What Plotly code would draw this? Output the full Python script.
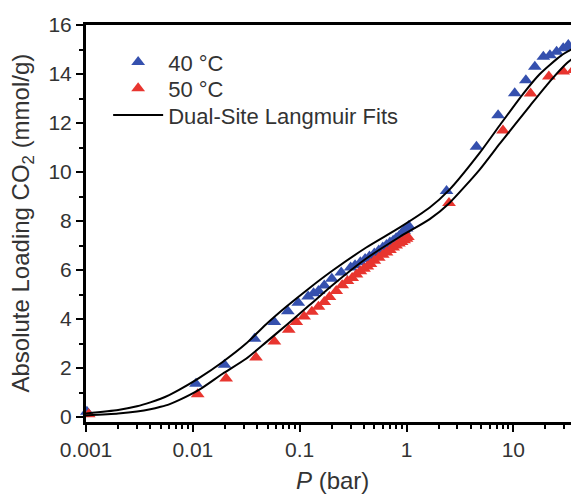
import plotly.graph_objects as go

# ---- data ----
p_40 = [0.00102, 0.0107, 0.0198, 0.0378, 0.058, 0.0775, 0.097, 0.12, 0.135, 0.15,
        0.17, 0.2, 0.245, 0.3, 0.33, 0.37, 0.41, 0.45, 0.5, 0.55, 0.6, 0.65, 0.7,
        0.75, 0.8, 0.85, 0.9, 0.95, 1.0, 1.05,
        2.37, 4.52, 7.2, 10.3, 13.1, 15.9, 19.1, 22.0, 25.4, 29.3, 32.7, 36.3]
q_40 = [0.22, 1.36, 2.14, 3.2, 3.88, 4.32, 4.67, 4.92, 5.05, 5.15,
        5.37, 5.65, 5.9, 6.1, 6.2, 6.32, 6.45, 6.55, 6.68, 6.8, 6.92, 7.02, 7.12,
        7.2, 7.3, 7.38, 7.5, 7.6, 7.7, 7.8,
        9.23, 11.03, 12.32, 13.21, 13.75, 14.3, 14.7, 14.77, 14.91, 15.05, 15.18, 15.11]

p_50 = [0.00106, 0.0111, 0.0205, 0.039, 0.058, 0.079, 0.093, 0.11, 0.13, 0.15, 0.17,
        0.19, 0.22, 0.25, 0.28, 0.31, 0.34, 0.37, 0.40, 0.43, 0.46, 0.50, 0.55,
        0.60, 0.65, 0.70, 0.75, 0.80, 0.85, 0.90, 0.95, 1.0, 1.03,
        2.5, 8.0, 14.5, 21.5, 29.3, 36.3]
q_50 = [0.12, 0.93, 1.57, 2.43, 3.08, 3.56, 3.88, 4.1, 4.3, 4.5, 4.7,
        4.9, 5.15, 5.38, 5.55, 5.68, 5.82, 5.95, 6.05, 6.15, 6.25, 6.38, 6.5,
        6.62, 6.72, 6.82, 6.92, 7.0, 7.08, 7.15, 7.22, 7.28, 7.35,
        8.74, 11.7, 13.2, 13.9, 14.1, 14.16]

# dual-site Langmuir fit curves
fit40_p = [0.001, 0.002, 0.003, 0.004, 0.005, 0.006, 0.0075, 0.0115, 0.019, 0.0315,
           0.0486, 0.0748, 0.123, 0.205, 0.42, 0.86, 1.65, 2.5, 4.8, 7.5, 12.4, 17.7,
           28.0, 40.3]
fit40_q = [0.15, 0.29, 0.44, 0.6, 0.75, 0.9, 1.12, 1.6, 2.25, 3.0,
           3.79, 4.5, 5.26, 5.99, 6.92, 7.73, 8.55, 9.26, 10.76, 11.92, 13.2, 14.0,
           14.75, 15.15]

fit50_p = [0.001, 0.002, 0.003, 0.004, 0.005, 0.006, 0.0075, 0.0115, 0.019, 0.0315,
           0.0486, 0.0748, 0.123, 0.205, 0.42, 0.86, 1.65, 2.5, 4.8, 7.5, 14.3, 21.9,
           31.6, 40.3]
fit50_q = [0.07, 0.15, 0.23, 0.32, 0.42, 0.52, 0.7, 1.12, 1.77, 2.38,
           3.06, 3.75, 4.56, 5.4, 6.47, 7.35, 8.08, 8.72, 10.08, 11.17, 12.7, 13.69,
           14.44, 14.8]

BLUE = "#3550AE"
RED = "#E8352F"
FONT = "Liberation Sans, Arial, sans-serif"
TXT = "#333333"
LEG_FONT = dict(size=22, color=TXT)

fig = go.Figure()
fig.add_trace(go.Scatter(x=p_40, y=q_40, mode="markers", name="40 °C", legend="legend",
                         cliponaxis=False,
                         marker=dict(symbol="triangle-up", size=12, color=BLUE)))
fig.add_trace(go.Scatter(x=p_50, y=q_50, mode="markers", name="50 °C", legend="legend2",
                         cliponaxis=False,
                         marker=dict(symbol="triangle-up", size=12, color=RED)))
fig.add_trace(go.Scatter(x=fit40_p, y=fit40_q, mode="lines", name="Dual-Site Langmuir Fits",
                         legend="legend3",
                         line=dict(color="black", width=2, shape="spline", smoothing=0.6)))
fig.add_trace(go.Scatter(x=fit50_p, y=fit50_q, mode="lines", showlegend=False,
                         line=dict(color="black", width=2, shape="spline", smoothing=0.6)))

leg_common = dict(x=0.045, xanchor="left", yanchor="middle", bgcolor="rgba(0,0,0,0)",
                  font=LEG_FONT, itemwidth=50)
# the page body adds an 8px offset, so the figure is 8px smaller and margins reduced
fig.update_layout(
    width=571, height=487,
    margin=dict(l=78, r=1, t=17, b=73),
    plot_bgcolor="white", paper_bgcolor="white",
    font=dict(family=FONT, color=TXT, size=21),
    legend=dict(y=0.906, **leg_common),
    legend2=dict(y=0.840, **leg_common),
    legend3=dict(y=0.773, **leg_common),
    annotations=[
        dict(text="<i>P</i> (bar)", xref="paper", yref="paper", x=0.5, y=-0.148,
             xanchor="center", yanchor="middle", showarrow=False,
             font=dict(size=24, color=TXT)),
        dict(text="Absolute Loading CO<sub>2</sub> (mmol/g)", xref="paper", yref="paper",
             x=-0.130, y=0.5, xanchor="center", yanchor="middle", textangle=-90,
             showarrow=False, font=dict(size=24, color=TXT)),
    ],
)
fig.update_xaxes(
    type="log", range=[-3, 1.6053], automargin=False,
    tickvals=[0.001, 0.01, 0.1, 1, 10], ticktext=["0.001", "0.01", "0.1", "1", "10"],
    ticks="outside", ticklen=7, tickwidth=2, tickcolor="black",
    minor=dict(ticks="outside", ticklen=4, tickwidth=2, tickcolor="black",
               dtick="D1", showgrid=False),
    showline=True, linewidth=3, linecolor="black", mirror=True,
    showgrid=False, zeroline=False,
    tickfont=dict(size=21, color=TXT),
)
fig.update_yaxes(
    range=[-0.2, 16], tickvals=[0, 2, 4, 6, 8, 10, 12, 14, 16], automargin=False,
    ticks="outside", ticklen=7, tickwidth=2, tickcolor="black",
    minor=dict(ticks="outside", ticklen=4, tickwidth=2, tickcolor="black",
               dtick=1, showgrid=False),
    showline=True, linewidth=3, linecolor="black", mirror=True,
    showgrid=False, zeroline=False,
    tickfont=dict(size=21, color=TXT),
)

fig.write_html("out.html")
